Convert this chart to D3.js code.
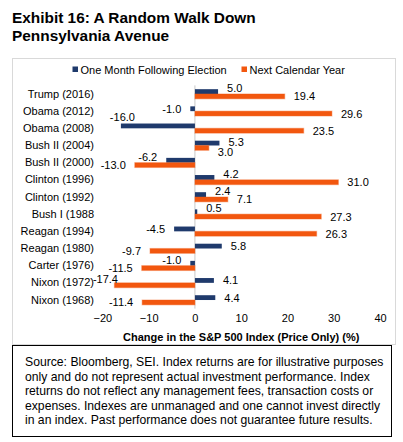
<!DOCTYPE html>
<html>
<head>
<meta charset="utf-8">
<script src="https://cdn.jsdelivr.net/npm/d3@7"></script>
<style>
  html, body { margin: 0; padding: 0; background: #ffffff; }
  svg { display: block; font-family: "Liberation Sans", Arial, sans-serif; }
</style>
</head>
<body>
<svg id="chart" width="403" height="442"></svg>
<script>
// ---- data ----
const categories = ["Trump (2016)", "Obama (2012)", "Obama (2008)", "Bush II (2004)", "Bush II (2000)",
  "Clinton (1996)", "Clinton (1992)", "Bush I (1988", "Reagan (1994)", "Reagan (1980)",
  "Carter (1976)", "Nixon (1972)", "Nixon (1968)"];
const oneMonth = [5.0, -1.0, -16.0, 5.3, -6.2, 4.2, 2.4, 0.5, -4.5, 5.8, -1.0, 4.1, 4.4];
const nextYear = [19.4, 29.6, 23.5, 3.0, -13.0, 31.0, 7.1, 27.3, 26.3, -9.7, -11.5, -17.4, -11.4];
const seriesNames = ["One Month Following Election", "Next Calendar Year"];
const xTicks = [-20, -10, 0, 10, 20, 30, 40];
const titleLines = ["Exhibit 16: A Random Walk Down", "Pennsylvania Avenue"];
const axisTitle = "Change in the S&P 500 Index (Price Only) (%)";
const sourceLines = [
  "Source: Bloomberg, SEI. Index returns are for illustrative purposes",
  "only and do not represent actual investment performance. Index",
  "returns do not reflect any management fees, transaction costs or",
  "expenses. Indexes are unmanaged and one cannot invest directly",
  "in an index. Past performance does not guarantee future results."
];

// ---- style ----
const BLUE = "#1f3a6c";
const ORANGE = "#f2570f";
const FONT = "'Liberation Sans', Arial, sans-serif";

const svg = d3.select("#chart");

// title
svg.append("g").selectAll("text").data(titleLines).join("text")
  .attr("x", 12).attr("y", (d, i) => 23 + i * 17.5)
  .attr("font-size", 15.4).attr("font-weight", "bold").attr("fill", "#000")
  .text(d => d);

// chart frame
svg.append("rect").attr("x", 12.5).attr("y", 58.5).attr("width", 383).attr("height", 286)
  .attr("fill", "none").attr("stroke", "#d9d9d9").attr("stroke-width", 1);

// scales
const x = d3.scaleLinear().domain([-20, 40]).range([102.4, 380]);
const y = d3.scaleBand().domain(categories).range([85.4, 308.6]).padding(0);
const barH = 4.8;
const cy = c => y(c) + y.bandwidth() / 2;

// legend
const legend = svg.append("g");
const legItems = [{ name: seriesNames[0], color: BLUE, x: 72.5 }, { name: seriesNames[1], color: ORANGE, x: 241.5 }];
legItems.forEach(it => {
  legend.append("rect").attr("x", it.x).attr("y", 66.5).attr("width", 5.5).attr("height", 5.5).attr("fill", it.color);
  legend.append("text").attr("x", it.x + 8).attr("y", 73.5).attr("font-size", 11).attr("fill", "#000").text(it.name);
});

// zero axis line
svg.append("line").attr("x1", x(0)).attr("x2", x(0)).attr("y1", 85.4).attr("y2", 308.6)
  .attr("stroke", "#c8c8c8").attr("stroke-width", 1);

// bars
const rows = categories.map((c, i) => ({ c, a: oneMonth[i], b: nextYear[i] }));
const bars = svg.append("g");
bars.selectAll("rect.blue").data(rows).join("rect").attr("class", "blue")
  .attr("x", d => x(Math.min(0, d.a))).attr("width", d => Math.abs(x(d.a) - x(0)))
  .attr("y", d => cy(d.c) - barH).attr("height", barH).attr("fill", BLUE);
bars.selectAll("rect.orange").data(rows).join("rect").attr("class", "orange")
  .attr("x", d => x(Math.min(0, d.b))).attr("width", d => Math.abs(x(d.b) - x(0)))
  .attr("y", d => cy(d.c)).attr("height", barH).attr("fill", ORANGE)
  .attr("stroke", "rgba(242,87,15,0.35)").attr("stroke-width", 1.2);

// data labels (Excel-like placement with simple collision rules)
const labels = svg.append("g").attr("font-size", 11).attr("fill", "#000");
const gap = 9;
function placeLabel(v, other, barTop, isBlue) {
  const t = labels.append("text").text(v.toFixed(1));
  const w = t.node().getComputedTextLength();
  const end = x(v);
  let left = v >= 0 ? end + gap : end - gap - w;
  let mid = barTop + barH / 2;
  if (left < x.range()[0] - 6) {
    // no room outside end: lift the label above its bar near the end
    left = end + (isBlue ? 1.5 : -9) - w / 2;
    mid = barTop - (isBlue ? 7 : 4);
  } else if (Math.sign(other) === Math.sign(v) && Math.abs(other) > Math.abs(v)) {
    // the sibling bar runs underneath the label: nudge it away
    mid += isBlue ? -3.4 : 4.3;
  }
  t.attr("x", left).attr("y", mid + 4);
  return { t, left, w, mid };
}
rows.forEach(d => {
  const A = placeLabel(d.a, d.b, cy(d.c) - barH, true);
  const B = placeLabel(d.b, d.a, cy(d.c), false);
  // if the two labels of a row collide, lift the first one clear of the second
  const hOverlap = A.left < B.left + B.w + 2 && B.left < A.left + A.w + 2;
  if (hOverlap && B.mid - A.mid < 10) {
    A.mid = B.mid - 10;
    A.t.attr("y", A.mid + 4);
  }
});

// category axis
const yAxis = svg.append("g").attr("transform", "translate(98,0)")
  .call(d3.axisLeft(y).tickSize(0).tickPadding(4));
yAxis.select(".domain").remove();
yAxis.selectAll("text").attr("font-size", 11).attr("font-family", FONT).attr("fill", "#000");

// value axis
const xAxis = svg.append("g").attr("transform", "translate(0,314)")
  .call(d3.axisBottom(x).tickValues(xTicks).tickSize(0).tickPadding(0).tickFormat(d3.format("d")));
xAxis.select(".domain").remove();
xAxis.selectAll("text").attr("font-size", 11).attr("font-family", FONT).attr("fill", "#000").attr("dy", "0.71em");

svg.append("text").attr("x", (x.range()[0] + x.range()[1]) / 2).attr("y", 341)
  .attr("text-anchor", "middle").attr("font-size", 11).attr("font-weight", "bold").attr("fill", "#000")
  .text(axisTitle);

// source box
svg.append("rect").attr("x", 12.5).attr("y", 345.5).attr("width", 379).attr("height", 91)
  .attr("fill", "#fff").attr("stroke", "#000").attr("stroke-width", 1);
svg.append("g").selectAll("text").data(sourceLines).join("text")
  .attr("x", 25).attr("y", (d, i) => 366 + i * 14.6)
  .attr("font-size", 12.2).attr("fill", "#000").text(d => d);
</script>
</body>
</html>
